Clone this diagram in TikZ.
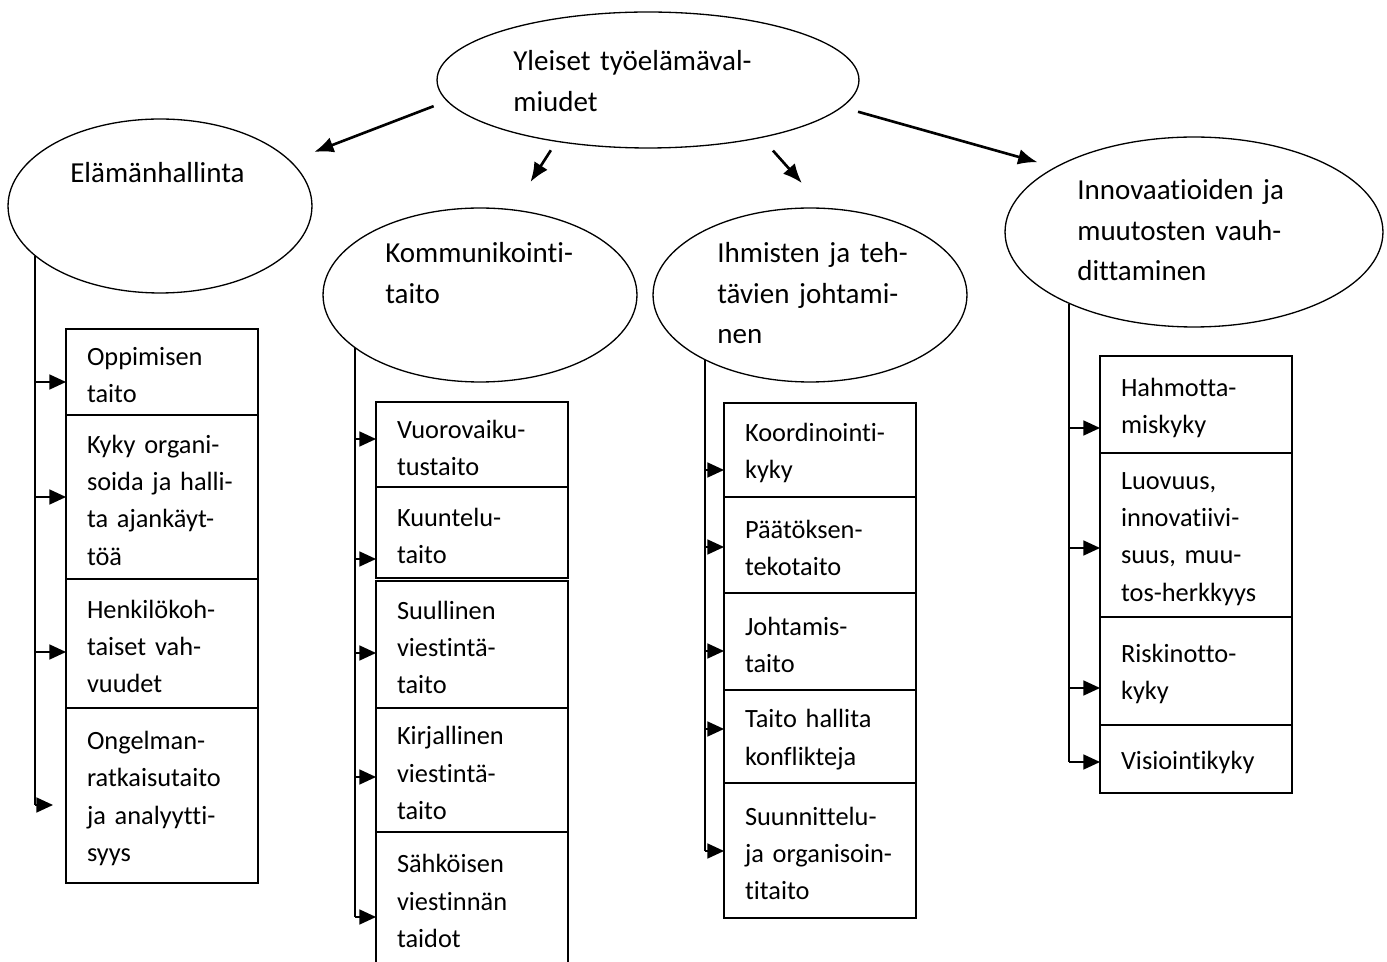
\documentclass[tikz,border=0pt]{standalone}
\usepackage{fontspec}
\setmainfont{Carlito}[RawFeature={-liga;-dlig;-clig}]
\usetikzlibrary{arrows.meta,positioning,shapes.geometric}
\tikzset{
    oval/.style={draw,ellipse,line width=0.75pt,inner sep=0pt},
    ovaltext/.style={anchor=base west,inner sep=0pt,text width=6cm,align=left,
        font=\fontsize{16.5}{23}\selectfont},
    skill/.style={draw,rectangle,line width=0.9pt,outer sep=0pt,inner ysep=0pt,
        inner xsep=0.42cm,text width=3cm,text height=14pt,align=left,
        font=\fontsize{15}{21.2}\selectfont},
    mainarrow/.style={-{Latex[length=11pt,width=9pt]},line width=1.5pt},
    trunk/.style={line width=1.1pt},
    branch/.style={-{Triangle[length=9.5pt,width=8.5pt]},line width=1.1pt}
}

\begin{document}
\begin{tikzpicture}[x=0.02cm,y=-0.02cm]
    \useasboundingbox (0,0) rectangle (1387,962);
    \clip (0,0) rectangle (1387,962);

    % ellipses
    \node[oval,minimum width=8.44cm,minimum height=2.72cm] (yleiset) at (648,80) {};
    \node[oval,minimum width=6.08cm,minimum height=3.48cm] (elama) at (160,206) {};
    \node[oval,minimum width=6.28cm,minimum height=3.48cm] (komm) at (480,295) {};
    \node[oval,minimum width=6.28cm,minimum height=3.48cm] (ihm) at (810,295) {};
    \node[oval,minimum width=7.56cm,minimum height=3.80cm] (inno) at (1194,232) {};

    \node[ovaltext] (yleisettxt) at (513,71) {Yleiset työelämäval-\\miudet};
    \node[ovaltext] (elamatxt) at (70,183) {Elämänhallinta};
    \node[ovaltext] (kommtxt) at (385,263) {Kommunikointi-\\taito};
    \node[ovaltext] (ihmtxt) at (717,263) {Ihmisten ja teh-\\tävien johtami-\\nen};
    \node[ovaltext] (innotxt) at (1077,200) {Innovaatioiden ja\\muutosten vauh-\\dittaminen};

    \draw[mainarrow,shorten <=0.28cm,shorten >=0.5cm] (yleiset.186.7) -- (elama.19.4);
    \draw[mainarrow,shorten <=0.2cm,shorten >=0.65cm] (yleiset.214.7) -- (komm.69.8);
    \draw[mainarrow,shorten <=0.34cm,shorten >=0.66cm] (yleiset.333.8) -- (ihm.81.4);
    \draw[mainarrow,shorten <=0.33cm,shorten >=0.36cm] (yleiset.352.7) -- (inno.155.5);

    % Elämänhallinta
    \node[skill,minimum height=1.72cm,anchor=north] (oppi) at (162,329) {Oppimisen\\taito};
    \node[skill,minimum height=3.28cm,below=0pt of oppi] (kyky) {Kyky organi-\\soida ja halli-\\ta ajankäyt-\\töä};
    \node[skill,minimum height=2.58cm,below=0pt of kyky] (henk) {Henkilökoh-\\taiset vah-\\vuudet};
    \node[skill,minimum height=3.50cm,below=0pt of henk] (ongel) {Ongelman-\\ratkaisutaito\\ja analyytti-\\syys};

    \draw[trunk] (elama.202.5) -- (elama.202.5 |- 0,805);
    \foreach \b/\y in {oppi/382,kyky/497,henk/652}
        \draw[branch] (elama.202.5 |- 0,\y) -- (\b.west |- 0,\y);
    \draw[branch,shorten >=0.26cm] (elama.202.5 |- 0,805) -- (ongel.west |- 0,805);

    % Kommunikointitaito
    \node[skill,minimum height=1.70cm,anchor=north] (vuoro) at (472,402) {Vuorovaiku-\\tustaito};
    \node[skill,minimum height=1.82cm,below=0pt of vuoro] (kuun) {Kuuntelu-\\taito};
    \node[skill,minimum height=2.54cm,below=0.06cm of kuun] (suul) {Suullinen\\viestintä-\\taito};
    \node[skill,minimum height=2.48cm,below=0pt of suul] (kirj) {Kirjallinen\\viestintä-\\taito};
    \node[skill,minimum height=2.64cm,below=0pt of kirj] (sahk) {Sähköisen\\viestinnän\\taidot};

    \draw[trunk] (komm.203.7) -- (komm.203.7 |- 0,917);
    \foreach \b/\y in {vuoro/439,kuun/559,suul/653,kirj/777,sahk/917}
        \draw[branch] (komm.203.7 |- 0,\y) -- (\b.west |- 0,\y);

    % Ihmisten ja tehtävien johtaminen
    \node[skill,minimum height=1.88cm,anchor=north] (koord) at (820,403) {Koordinointi-\\kyky};
    \node[skill,minimum height=1.92cm,below=0pt of koord] (paat) {Päätöksen-\\tekotaito};
    \node[skill,minimum height=1.94cm,below=0pt of paat] (johta) {Johtamis-\\taito};
    \node[skill,minimum height=1.86cm,below=0pt of johta] (konf) {Taito hallita\\konflikteja};
    \node[skill,minimum height=2.70cm,below=0pt of konf] (suun) {Suunnittelu-\\ja organisoin-\\titaito};

    \draw[trunk] (ihm.212.9) -- (ihm.212.9 |- 0,851);
    \foreach \b/\y in {koord/470,paat/547,johta/651,konf/729,suun/851}
        \draw[branch] (ihm.212.9 |- 0,\y) -- (\b.west |- 0,\y);

    % Innovaatioiden ja muutosten vauhdittaminen
    \node[skill,minimum height=1.94cm,anchor=north] (hahmo) at (1196,356) {Hahmotta-\\miskyky};
    \node[skill,minimum height=3.28cm,below=0pt of hahmo] (luov) {Luovuus,\\innovatiivi-\\suus, muu-\\tos-herkkyys};
    \node[skill,minimum height=2.16cm,below=0pt of luov] (riski) {Riskinotto-\\kyky};
    \node[skill,minimum height=1.36cm,below=0pt of riski] (visio) {Visiointikyky};

    \draw[trunk] (inno.210.3) -- (inno.210.3 |- 0,762);
    \foreach \b/\y in {hahmo/428,luov/548,riski/688,visio/762}
        \draw[branch] (inno.210.3 |- 0,\y) -- (\b.west |- 0,\y);
\end{tikzpicture}
\end{document}
